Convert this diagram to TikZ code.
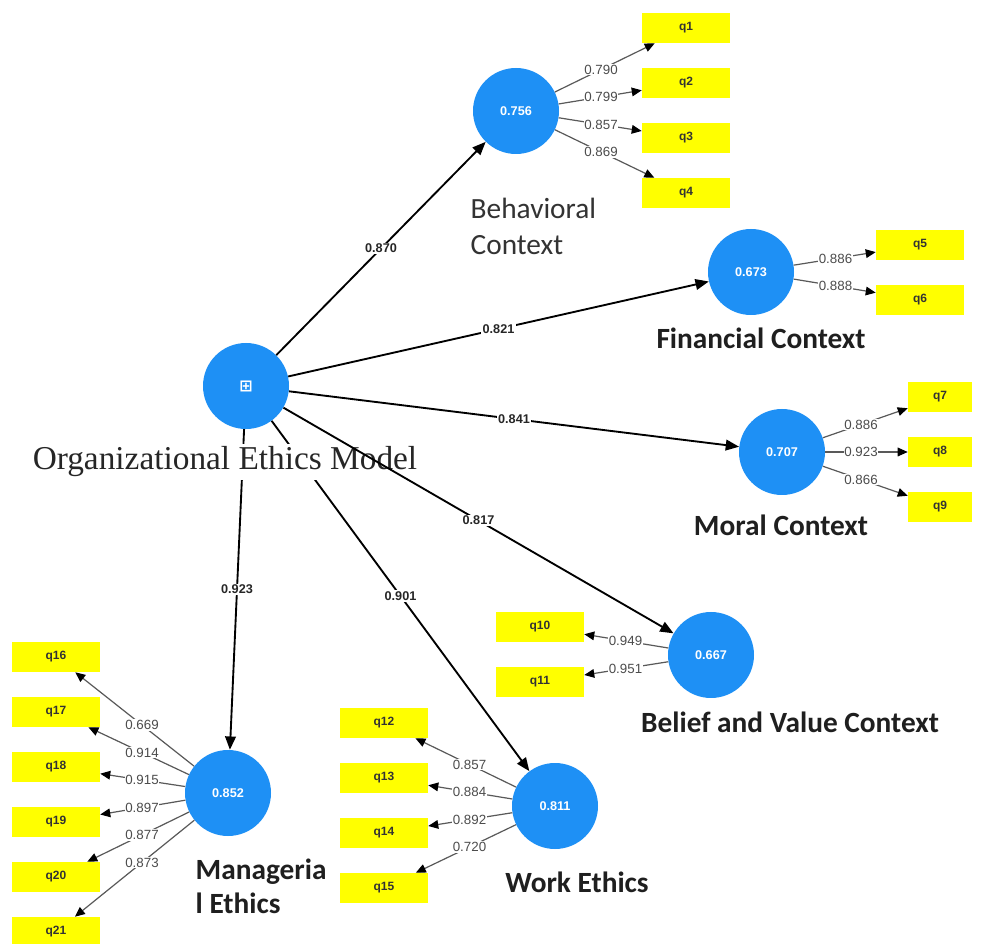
\documentclass[tikz,border=0pt]{standalone}
\usepackage{fontspec}
\setmainfont{Carlito}
\newfontfamily\arialf{Liberation Sans}
\newfontfamily\timesf{Liberation Serif}
\newfontfamily\dejavuf{DejaVu Sans}
\usetikzlibrary{arrows.meta,calc}
\definecolor{lvblue}{RGB}{30,144,245}
\definecolor{qyellow}{RGB}{255,255,0}
\newcommand{\indedge}[3]{\draw[indline] (#1) -- (#2); \node[indlbl] at ($(#1)!0.5!(#2)$) {#3};}
\newcommand{\stredge}[3]{\draw[strline] (#1) -- (#2); \node[strlbl] at ($(#1)!0.5!(#2)$) {#3};}
\begin{document}
\begin{tikzpicture}[x=0.75pt,y=-0.75pt,
  lv/.style={circle,fill=lvblue,minimum size=64.5pt,inner sep=0pt,text=white,
    font=\arialf\bfseries\fontsize{9.5}{11}\selectfont},
  qbox/.style={fill=qyellow,minimum width=66pt,minimum height=22.5pt,inner sep=0pt,
    font=\arialf\bfseries\fontsize{9}{10}\selectfont,text=black!80},
  indline/.style={draw=black!65,line width=0.9pt,-{Triangle[length=7.5pt,width=6.5pt,color=black]}},
  strline/.style={draw=black,line width=1.4pt,-{Triangle[length=10pt,width=8pt]}},
  indlbl/.style={fill=white,inner sep=0.6pt,text=black!70,font=\arialf\fontsize{10}{11}\selectfont},
  strlbl/.style={fill=white,inner sep=1pt,text=black!85,font=\arialf\bfseries\fontsize{9.5}{11}\selectfont},
  namelbl/.style={text=black!88,font=\bfseries\fontsize{22}{26}\selectfont},
  plainlbl/.style={text=black!80,font=\fontsize{22}{27}\selectfont,align=left,anchor=west}
]
\useasboundingbox (0,0) rectangle (986,944);
\fill[white] (0,0) rectangle (986,944);

% latent variables
\node[lv] (C) at (246,386) {\dejavuf\fontsize{12}{12}\selectfont ⊞};
\node[lv] (B) at (516,111) {0.756};
\node[lv] (F) at (751,272) {0.673};
\node[lv] (M) at (782,452) {0.707};
\node[lv] (BV) at (711,655) {0.667};
\node[lv] (W) at (555,806) {0.811};
\node[lv] (ME) at (228,793) {0.852};

% indicators
\node[qbox] (q1) at (686,28) {q1};
\node[qbox] (q2) at (686,83) {q2};
\node[qbox] (q3) at (686,138) {q3};
\node[qbox] (q4) at (686,193) {q4};
\node[qbox] (q5) at (920,245) {q5};
\node[qbox] (q6) at (920,300) {q6};
\node[qbox,minimum width=48pt] (q7) at (940,397) {q7};
\node[qbox,minimum width=48pt] (q8) at (940,452) {q8};
\node[qbox,minimum width=48pt] (q9) at (940,507) {q9};
\node[qbox] (q10) at (540,627) {q10};
\node[qbox] (q11) at (540,682) {q11};
\node[qbox] (q12) at (384,723) {q12};
\node[qbox] (q13) at (384,778) {q13};
\node[qbox] (q14) at (384,833) {q14};
\node[qbox] (q15) at (384,888) {q15};
\node[qbox] (q16) at (56,657) {q16};
\node[qbox] (q17) at (56,712) {q17};
\node[qbox] (q18) at (56,767) {q18};
\node[qbox] (q19) at (56,822) {q19};
\node[qbox] (q20) at (56,877) {q20};
\node[qbox] (q21) at (56,932) {q21};

% structural paths (under the title box)
\stredge{C}{ME}{0.923}
\stredge{C}{W}{0.901}
\node[fill=white,inner sep=2pt,text=black!85,font=\timesf\fontsize{25}{28}\selectfont] (T) at (225,462) {Organizational Ethics Model};
\stredge{C}{B}{0.870}
\stredge{C}{F}{0.821}
\stredge{C}{M}{0.841}
\stredge{C}{BV}{0.817}

% measurement paths
\indedge{B}{q1}{0.790}
\indedge{B}{q2}{0.799}
\indedge{B}{q3}{0.857}
\indedge{B}{q4}{0.869}
\indedge{F}{q5}{0.886}
\indedge{F}{q6}{0.888}
\indedge{M}{q7}{0.886}
\indedge{M}{q8}{0.923}
\indedge{M}{q9}{0.866}
\indedge{BV}{q10}{0.949}
\indedge{BV}{q11}{0.951}
\indedge{W}{q12}{0.857}
\indedge{W}{q13}{0.884}
\indedge{W}{q14}{0.892}
\indedge{W}{q15}{0.720}
\indedge{ME}{q16}{0.669}
\indedge{ME}{q17}{0.914}
\indedge{ME}{q18}{0.915}
\indedge{ME}{q19}{0.897}
\indedge{ME}{q20}{0.877}
\indedge{ME}{q21}{0.873}

% construct names
\node[plainlbl] (LB) at (466,226) {Behavioral\\Context};
\node[namelbl] (LF) at (761,338) {Financial Context};
\node[namelbl] (LM) at (781,525) {Moral Context};
\node[namelbl] (LBV) at (790,722) {Belief and Value Context};
\node[namelbl] (LW) at (577,882) {Work Ethics};
\node[namelbl,align=left,anchor=west,font=\bfseries\fontsize{22}{25.5}\selectfont] (LME) at (191,886) {Manageria\\l Ethics};
\end{tikzpicture}
\end{document}
